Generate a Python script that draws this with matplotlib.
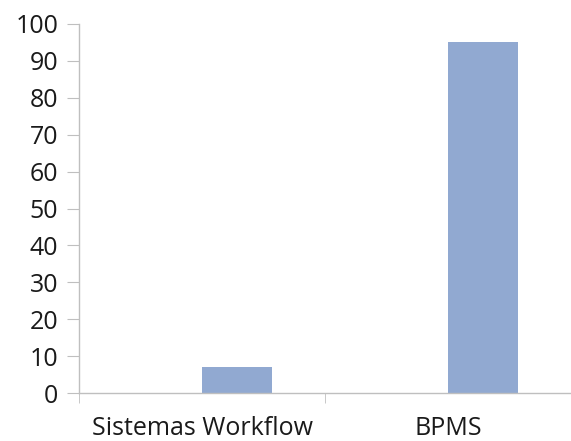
import numpy as np
from matplotlib import pyplot as plt

categories = ["Sistemas Workflow", "BPMS"]
values = [7, 95]

plt.rcParams['font.family'] = ['Open Sans', 'DejaVu Sans']

fig = plt.figure(figsize=(5.71, 4.41), dpi=100)
ax = fig.add_axes([0.1384, 0.1088, 0.8616, 0.8368])

x = np.arange(len(categories))
ax.bar(x + 0.143, values, width=0.283, color="#91a9d1")

ax.set_xlim(-0.5, 1.46)
ax.set_ylim(0, 100)
ax.set_yticks(range(0, 101, 10))
ax.set_xticks(x)
ax.set_xticklabels(categories)
ax.set_xticks([-0.5, 0.5, 1.5], minor=True)

for s in ["top", "right"]:
    ax.spines[s].set_visible(False)
for s in ["left", "bottom"]:
    ax.spines[s].set_color("#bfbfbf")
    ax.spines[s].set_linewidth(1)

ax.tick_params(axis="y", length=9, color="#bfbfbf", labelsize=18, pad=6, labelcolor="#1a1a1a")
ax.tick_params(axis="x", which="major", length=0, labelsize=18, pad=16.5, labelcolor="#1a1a1a")
ax.tick_params(axis="x", which="minor", length=7, color="#bfbfbf")

fig.savefig("out.png", dpi=100)
